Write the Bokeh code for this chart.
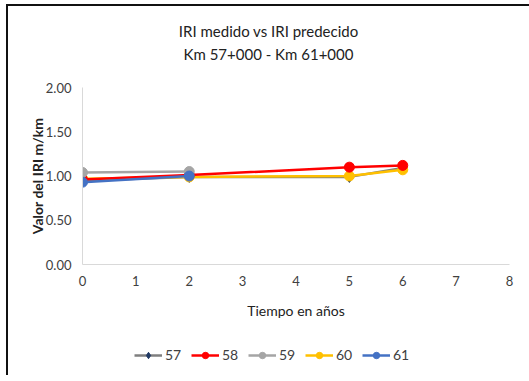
from bokeh.plotting import figure
from bokeh.layouts import column
from bokeh.models import Div, Legend, LegendItem, FixedTicker, NumeralTickFormatter, Range1d
from bokeh.embed import file_html
from bokeh.resources import INLINE

FONT = "Lato"

title_lines = ["IRI medido vs IRI predecido", "Km 57+000 - Km 61+000"]
years_full = [0, 2, 5, 6]
years_short = [0, 2]
s57 = [0.95, 0.99, 0.99, 1.09]
s58 = [0.96, 1.01, 1.10, 1.12]
s59 = [1.04, 1.05]
s60 = [0.97, 0.99, 1.00, 1.07]
s61 = [0.93, 1.00]

series_names = ["57", "58", "59", "60", "61"]
series_colors = ["#7F7F7F", "#FF0000", "#A5A5A5", "#FFC000", "#4472C4"]
marker_fill = ["#1F3864", "#FF0000", "#A5A5A5", "#FFC000", "#4472C4"]
marker_type = ["diamond", "circle", "circle", "circle", "circle"]

x_ticks = [0, 1, 2, 3, 4, 5, 6, 7, 8]
y_ticks = [0, 0.5, 1.0, 1.5, 2.0]

title = Div(width=521, height=55, margin=(0, 0, 0, 0),
            text='<div style="width:521px;text-align:center;font-family:Lato;font-size:15px;'
                 'line-height:23px;color:#222222;padding-top:14px;">'
                 + title_lines[0] + "<br>" + title_lines[1] + "</div>")

p = figure(width=521, height=274, output_backend="svg", toolbar_location=None,
           x_range=Range1d(0, 8), y_range=Range1d(0, 2),
           min_border_left=74, min_border_right=20, min_border_top=26, min_border_bottom=71)
p.title.visible = False
p.outline_line_color = None
p.grid.visible = False
p.background_fill_color = "white"

for ax in (p.xaxis[0], p.yaxis[0]):
    ax.axis_line_color = "#D9D9D9"
    ax.major_tick_line_color = None
    ax.minor_tick_line_color = None
    ax.major_label_text_font = FONT
    ax.major_label_text_font_size = "13px"
    ax.major_label_text_color = "#404040"
    ax.axis_label_text_font = FONT
    ax.axis_label_text_color = "#222222"

p.xaxis.ticker = FixedTicker(ticks=x_ticks)
p.yaxis.ticker = FixedTicker(ticks=y_ticks)
p.yaxis.formatter = NumeralTickFormatter(format="0.00")
p.xaxis.axis_label = "Tiempo en años"
p.xaxis.axis_label_text_font_size = "14px"
p.xaxis.axis_label_text_font_style = "normal"
p.yaxis.axis_label = "Valor del IRI m/km"
p.yaxis.axis_label_text_font_size = "14px"
p.yaxis.axis_label_text_font_style = "bold"
p.yaxis.axis_label_standoff = -3
p.xaxis.axis_label_standoff = 13

# draw order: 57, 60, 58, 59, 61
xs = {"57": years_full, "58": years_full, "59": years_short, "60": years_full, "61": years_short}
ys = {"57": s57, "58": s58, "59": s59, "60": s60, "61": s61}
for name in ["57", "60", "58", "59", "61"]:
    i = series_names.index(name)
    p.line(xs[name], ys[name], line_color=series_colors[i], line_width=2.5)
    p.scatter(xs[name], ys[name], marker=marker_type[i], size=10 if marker_type[i] == "circle" else 11,
              fill_color=marker_fill[i], line_color=marker_fill[i])

# legend figure (legend-only renderers placed outside the visible range)
lg = figure(width=521, height=40, output_backend="svg", toolbar_location=None,
            x_range=Range1d(0, 1), y_range=Range1d(0, 1),
            min_border_left=0, min_border_right=0, min_border_top=0, min_border_bottom=0)
lg.axis.visible = False
lg.grid.visible = False
lg.outline_line_color = None
lg.title.visible = False
items = []
for i, name in enumerate(series_names):
    l = lg.line([-5, -4], [-5, -4], line_color=series_colors[i], line_width=2.5)
    m = lg.scatter([-5], [-5], marker=marker_type[i], size=10 if marker_type[i] == "circle" else 11,
                   fill_color=marker_fill[i], line_color=marker_fill[i])
    items.append(LegendItem(label=name, renderers=[l, m]))
legend = Legend(items=items, orientation="horizontal", location=(52, 12),
                label_text_font=FONT, label_text_font_size="14px", label_text_color="#404040",
                glyph_width=28, glyph_height=16, spacing=6, label_standoff=3,
                border_line_color=None, background_fill_alpha=0, margin=0, padding=0)
lg.add_layout(legend, "center")

layout = column(title, p, lg, spacing=0,
                styles={"border-top": "2px solid #111", "border-left": "2px solid #111",
                        "margin-left": "6px", "margin-top": "4px", "background": "white"})

open("out.html", "w").write(file_html(layout, INLINE))
